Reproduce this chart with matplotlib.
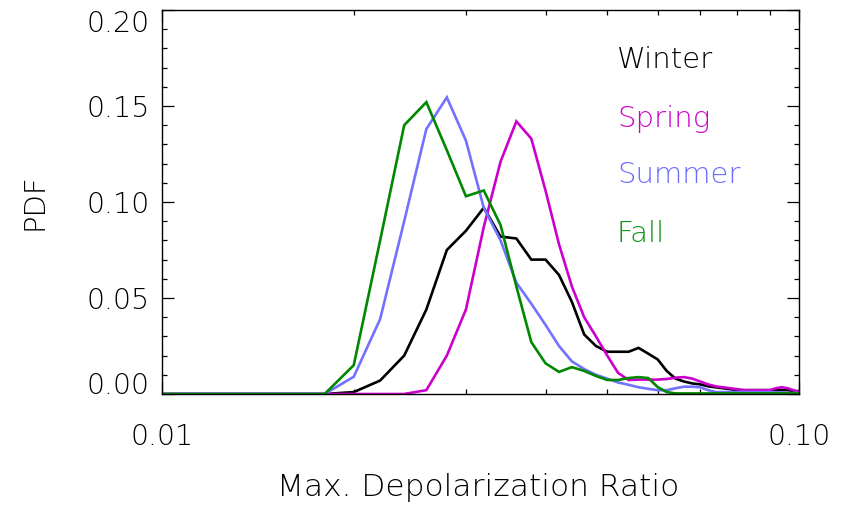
import matplotlib
matplotlib.use("Agg")
import matplotlib.pyplot as plt
from matplotlib.ticker import FixedLocator, FixedFormatter, NullFormatter

# ---------------- data ----------------
dep_ratio = [0.010, 0.012, 0.014, 0.016, 0.018, 0.020, 0.022, 0.024, 0.026, 0.028,
             0.030, 0.032, 0.034, 0.036, 0.038, 0.040, 0.042, 0.044, 0.046, 0.048,
             0.050, 0.052, 0.054, 0.056, 0.058, 0.060, 0.062, 0.064, 0.066, 0.068,
             0.070, 0.072, 0.074, 0.076, 0.078, 0.080, 0.082, 0.084, 0.086, 0.088,
             0.090, 0.092, 0.094, 0.096, 0.098, 0.100]

winter = [0, 0, 0, 0, 0, 0.001, 0.007, 0.020, 0.044, 0.075,
          0.085, 0.097, 0.082, 0.081, 0.070, 0.070, 0.062, 0.048, 0.031, 0.025,
          0.022, 0.022, 0.022, 0.024, 0.021, 0.018, 0.012, 0.008, 0.0065, 0.0055,
          0.005, 0.004, 0.0035, 0.003, 0.0025, 0.002, 0.002, 0.002, 0.002, 0.002,
          0.002, 0.002, 0.002, 0.002, 0.0015, 0.0015]

spring = [0, 0, 0, 0, 0, 0, 0, 0, 0.002, 0.020,
          0.044, 0.087, 0.121, 0.142, 0.133, 0.106, 0.078, 0.056, 0.040, 0.030,
          0.020, 0.011, 0.0073, 0.0075, 0.0075, 0.0075, 0.0078, 0.0085, 0.0088, 0.008,
          0.0065, 0.005, 0.004, 0.0035, 0.003, 0.0025, 0.002, 0.002, 0.002, 0.002,
          0.002, 0.003, 0.0035, 0.003, 0.002, 0.001]

summer = [0, 0, 0, 0, 0, 0.009, 0.039, 0.090, 0.138, 0.1545,
          0.132, 0.097, 0.080, 0.058, 0.047, 0.036, 0.025, 0.017, 0.013, 0.010,
          0.008, 0.006, 0.0048, 0.0035, 0.0027, 0.002, 0.002, 0.003, 0.0038, 0.0038,
          0.0035, 0.002, 0.001, 0.001, 0.001, 0.001, 0.001, 0.001, 0.001, 0.001,
          0.001, 0.0008, 0.0008, 0.0005, 0.0005, 0.0005]

fall = [0, 0, 0, 0, 0, 0.015, 0.080, 0.140, 0.152, 0.127,
        0.103, 0.106, 0.088, 0.056, 0.027, 0.016, 0.0115, 0.014, 0.012, 0.0094,
        0.0073, 0.0073, 0.0083, 0.0088, 0.0083, 0.0036, 0.001, 0.0003, 0.0003, 0.0003,
        0.0003, 0.0003, 0.0003, 0.0003, 0.0003, 0.0003, 0.0003, 0.0003, 0.0003, 0.0003,
        0.0003, 0.0003, 0.0003, 0.0003, 0.0003, 0.0003]

season_names = ["Winter", "Spring", "Summer", "Fall"]

x_major_ticks = [0.01, 0.1]
x_major_labels = ["0.01", "0.10"]
x_minor_ticks = [0.02, 0.03, 0.04, 0.05, 0.06, 0.07, 0.08, 0.09]
y_major_ticks = [0.00, 0.05, 0.10, 0.15, 0.20]
y_major_labels = ["0.00", "0.05", "0.10", "0.15", "0.20"]
y_minor_ticks = [0.01, 0.02, 0.03, 0.04, 0.06, 0.07, 0.08, 0.09,
                 0.11, 0.12, 0.13, 0.14, 0.16, 0.17, 0.18, 0.19]

# ---------------- style ----------------
line_colors = ["#000000", "#CC00CC", "#7272FF", "#008800"]
text_colors = ["#000000", "#CC00CC", "#6A6AFF", "#129412"]

plt.rcParams["font.family"] = ["DejaVu Sans"]
plt.rcParams["font.weight"] = 200
plt.rcParams["axes.labelweight"] = 200

W, H = 848, 505
fig = plt.figure(figsize=(W / 100, H / 100), dpi=100)
fig.patch.set_facecolor("white")
ax_l, ax_r, ax_t, ax_b = 162, 799, 10, 394
ax = fig.add_axes([ax_l / W, 1 - ax_b / H, (ax_r - ax_l) / W, (ax_b - ax_t) / H])

for vals, col in zip([winter, spring, summer, fall], line_colors):
    ax.plot(dep_ratio, vals, color=col, lw=1.9, solid_joinstyle="miter", clip_on=True)

ax.set_xscale("log")
ax.set_xlim(0.01, 0.1)
ax.set_ylim(0, 0.2)

ax.xaxis.set_major_locator(FixedLocator(x_major_ticks))
ax.xaxis.set_major_formatter(FixedFormatter(x_major_labels))
ax.xaxis.set_minor_locator(FixedLocator(x_minor_ticks))
ax.xaxis.set_minor_formatter(NullFormatter())
ax.yaxis.set_major_locator(FixedLocator(y_major_ticks))
ax.yaxis.set_major_formatter(FixedFormatter(y_major_labels))
ax.yaxis.set_minor_locator(FixedLocator(y_minor_ticks))
ax.yaxis.set_minor_formatter(NullFormatter())

ax.tick_params(which="both", direction="in", top=True, right=True,
               width=0.9, colors="black", labelcolor="black")
ax.tick_params(which="major", length=8.6, labelsize=20.5)
ax.tick_params(which="minor", length=3.8)
ax.tick_params(axis="y", pad=9)
ax.tick_params(axis="x", pad=21)
for sp in ax.spines.values():
    sp.set_linewidth(1.0)
    sp.set_color("black")

# IDL-style placement of end labels on the y axis
fig.canvas.draw()
ylabs = ax.get_yticklabels()
ylabs[0].set_va("baseline")
ylabs[-1].set_va("top")

ax.set_xlabel("Max. Depolarization Ratio", fontsize=22.5, fontweight=200,
              color="black", va="center")
ax.xaxis.set_label_coords((478 - ax_l) / (ax_r - ax_l), (ax_b - 487) / (ax_b - ax_t))
ax.set_ylabel("PDF", fontsize=21, fontweight=200, color="black", va="center")
ax.yaxis.set_label_coords((35 - ax_l) / (ax_r - ax_l), (ax_b - 202) / (ax_b - ax_t))

baselines = [68, 127, 183, 242]
for name, col, yb in zip(season_names, text_colors, baselines):
    ax.text((617 - ax_l) / (ax_r - ax_l), (ax_b - yb) / (ax_b - ax_t), name,
            transform=ax.transAxes, fontsize=21, fontweight=200, color=col,
            ha="left", va="baseline")

fig.savefig("out.png", dpi=100, facecolor="white")
